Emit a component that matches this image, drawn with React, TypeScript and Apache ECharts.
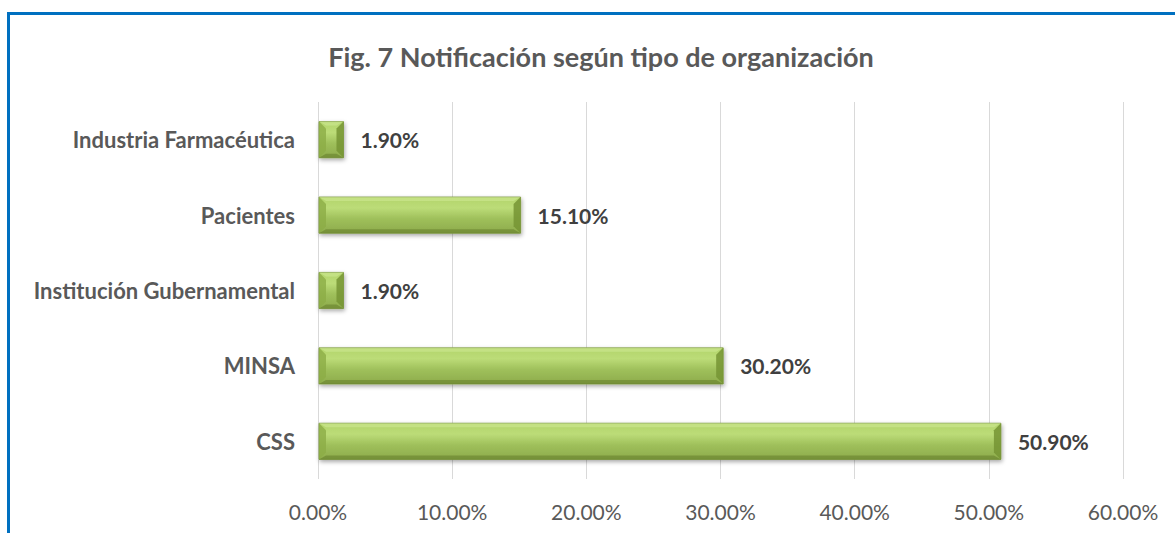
import React, { useEffect, useRef } from "react";
import * as echarts from "echarts";

const TITLE = "Fig. 7 Notificación según tipo de organización";
const categories = ["CSS", "MINSA", "Institución Gubernamental", "Pacientes", "Industria Farmacéutica"];
const values = [50.9, 30.2, 1.9, 15.1, 1.9];
const axisMax = 60;
const axisStep = 10;

const FONT = "Lato, 'Open Sans', sans-serif";

export default function App() {
  const ref = useRef<HTMLDivElement>(null);
  useEffect(() => {
    document.body.style.margin = "0";
    const chart = echarts.init(ref.current!, null, { renderer: "svg" });
    const option: any = {
      animation: false,
      backgroundColor: "#ffffff",
      title: {
        text: TITLE,
        left: 596,
        textAlign: "center",
        top: 38,
        textStyle: { fontFamily: FONT, fontSize: 27, fontWeight: "bold", color: "#595959" },
      },
      graphic: [
        {
          type: "rect",
          shape: { x: 8.5, y: 13.5, width: 1300, height: 700 },
          style: { fill: "none", stroke: "#0070C0", lineWidth: 3 },
          silent: true,
          z: 100,
        },
      ],
      grid: { left: 318, right: 52, top: 102, bottom: 54 },
      xAxis: {
        type: "value",
        min: 0,
        max: axisMax,
        interval: axisStep,
        axisLine: { show: false },
        axisTick: { show: false },
        splitLine: { lineStyle: { color: "#d9d9d9", width: 1 } },
        axisLabel: {
          margin: 22,
          fontFamily: FONT,
          fontSize: 21,
          color: "#595959",
          formatter: (v: number) => v.toFixed(2) + "%",
        },
      },
      yAxis: {
        type: "category",
        data: categories,
        axisLine: { show: false },
        axisTick: { show: false },
        axisLabel: {
          margin: 23,
          fontFamily: FONT,
          fontSize: 22,
          fontWeight: "bold",
          color: "#595959",
        },
      },
      series: [
        {
          type: "custom",
          data: values.map((v, i) => [v, i]),
          encode: { x: 0, y: 1 },
          renderItem: (params: any, api: any) => {
            const v = api.value(0);
            const ci = api.value(1);
            const s = api.coord([0, ci]);
            const e = api.coord([v, ci]);
            const h = api.size([0, 1])[1] * 0.48;
            const x0 = s[0] + 1;
            const x1 = e[0];
            const y0 = s[1] - h / 2;
            const y1 = s[1] + h / 2;
            const w = x1 - x0;
            const b = Math.min(7, w / 2);
            const yc = s[1];
            return {
              type: "group",
              children: [
                {
                  type: "rect",
                  shape: { x: x0, y: y0, width: w, height: h },
                  style: {
                    fill: new echarts.graphic.LinearGradient(0, 0, 0, 1, [
                      { offset: 0, color: "#b2d46a" },
                      { offset: 0.3, color: "#bcdc78" },
                      { offset: 0.6, color: "#9fc05b" },
                      { offset: 1, color: "#8dab4b" },
                    ]),
                    stroke: "#7a963c",
                    lineWidth: 0.8,
                    shadowBlur: 4,
                    shadowOffsetX: 1,
                    shadowOffsetY: 2,
                    shadowColor: "rgba(0,0,0,0.35)",
                  },
                },
                {
                  type: "polygon",
                  shape: { points: [[x0, y0], [x0 + b, y0 + b], [x0 + b, y1 - b], [x0, y1]] },
                  style: { fill: "rgba(140,172,70,0.8)" },
                },
                {
                  type: "polygon",
                  shape: { points: [[x1, y0], [x1 - b, y0 + b], [x1 - b, y1 - b], [x1, y1]] },
                  style: { fill: "rgba(118,148,52,0.85)" },
                },
                {
                  type: "polygon",
                  shape: { points: [[x0, y0], [x1, y0], [x1 - b, y0 + 4], [x0 + b, y0 + 4]] },
                  style: { fill: "rgba(215,240,160,0.45)" },
                },
                {
                  type: "polygon",
                  shape: { points: [[x0, y1], [x1, y1], [x1 - b, y1 - 4], [x0 + b, y1 - 4]] },
                  style: { fill: "rgba(95,120,40,0.5)" },
                },
                {
                  type: "text",
                  style: {
                    text: v.toFixed(2) + "%",
                    x: x1 + 17,
                    y: yc,
                    verticalAlign: "middle",
                    align: "left",
                    fontFamily: FONT,
                    fontSize: 21,
                    fontWeight: "bold",
                    fill: "#404040",
                  },
                },
              ],
            };
          },
        },
      ],
    };
    chart.setOption(option);
    return () => chart.dispose();
  }, []);
  return <div ref={ref} style={{ width: 1175, height: 533 }} />;
}
